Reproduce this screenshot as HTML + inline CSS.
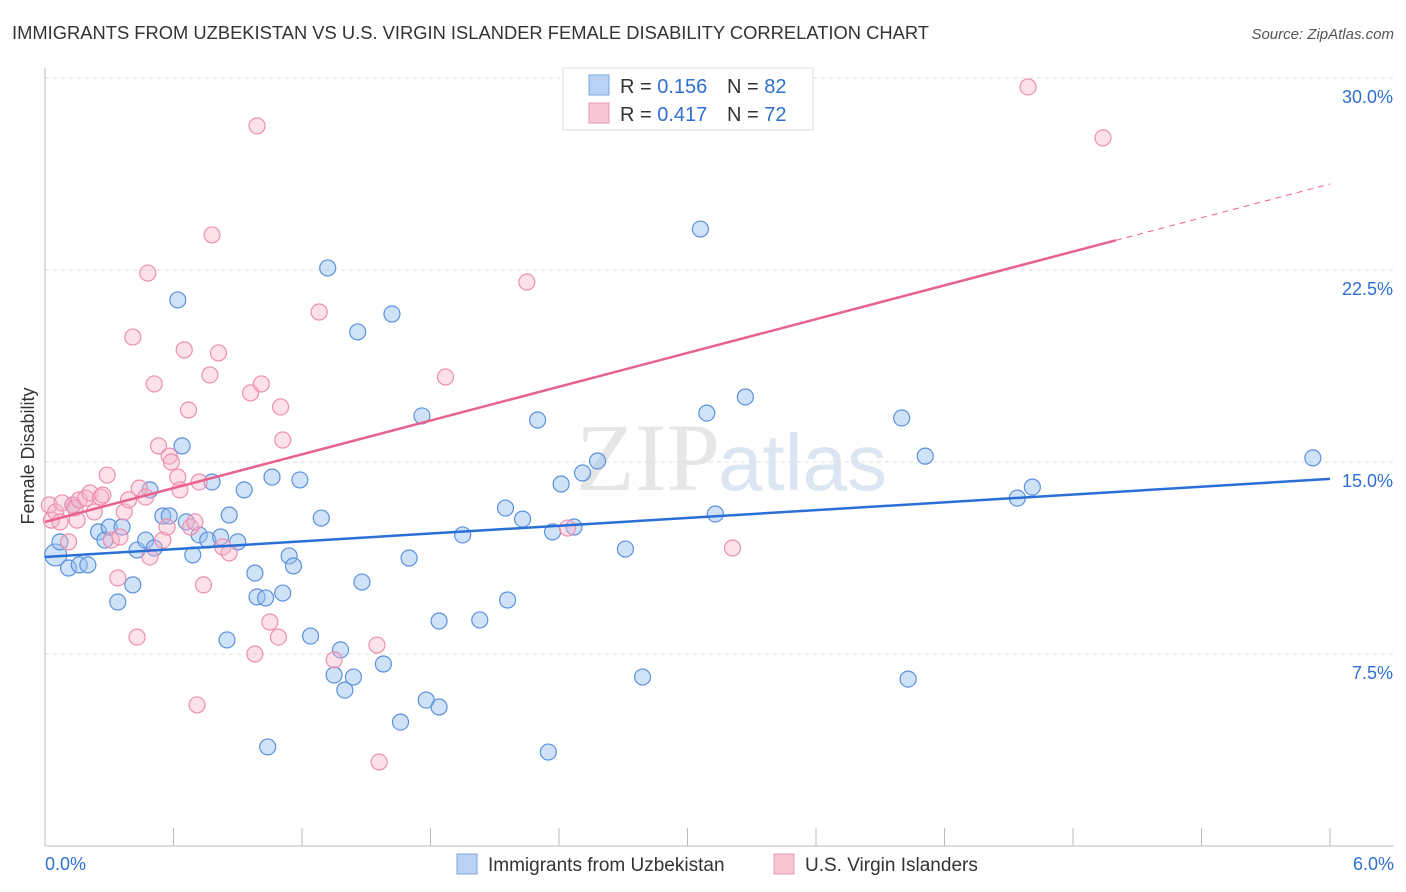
<!DOCTYPE html>
<html><head><meta charset="utf-8">
<style>
body{margin:0;background:#fff;font-family:"Liberation Sans",sans-serif;}
#wrap{position:relative;width:1406px;height:892px;overflow:hidden;}
</style></head>
<body>
<div id="wrap">
<svg id="svg" width="1406" height="892" xmlns="http://www.w3.org/2000/svg">
<text x="12" y="39" font-size="18" fill="#333" textLength="917" lengthAdjust="spacingAndGlyphs">IMMIGRANTS FROM UZBEKISTAN VS U.S. VIRGIN ISLANDER FEMALE DISABILITY CORRELATION CHART</text>
<text x="1394" y="39" font-size="15" fill="#555" font-style="italic" text-anchor="end">Source: ZipAtlas.com</text>
<text x="720" y="490" font-size="96" fill="#e6e6e6" font-family="Liberation Serif,serif" text-anchor="end">ZIP</text>
<text x="718" y="490" font-size="80" fill="#dce6f3">atlas</text>
<text transform="translate(34,456) rotate(-90)" font-size="18" fill="#333" text-anchor="middle">Female Disability</text>
<g id="grid"></g><g id="marks"></g>
<g>
<rect x="563" y="68" width="250" height="62" fill="#fff" stroke="#ddd"/>
<rect x="589" y="75" width="20" height="20" fill="#b8d2f3" stroke="#7aa5dd"/>
<rect x="589" y="103" width="20" height="20" fill="#f9c6d4" stroke="#ee97b0"/>
<text x="620" y="93" font-size="20" fill="#333">R = <tspan fill="#2f6fd0">0.156</tspan></text>
<text x="727" y="93" font-size="20" fill="#333">N = <tspan fill="#2f6fd0">82</tspan></text>
<text x="620" y="121" font-size="20" fill="#333">R = <tspan fill="#2f6fd0">0.417</tspan></text>
<text x="727" y="121" font-size="20" fill="#333">N = <tspan fill="#2f6fd0">72</tspan></text>
</g>
<g>
<rect x="457" y="854" width="20" height="20" fill="#b8d2f3" stroke="#7aa5dd"/>
<text x="488" y="871" font-size="19" fill="#333">Immigrants from Uzbekistan</text>
<rect x="774" y="854" width="20" height="20" fill="#f9c6d4" stroke="#ee97b0"/>
<text x="805" y="871" font-size="19" fill="#333">U.S. Virgin Islanders</text>
</g>
<text x="45" y="870" font-size="18" fill="#2f6fd0">0.0%</text>
<text x="1394" y="870" font-size="18" fill="#2f6fd0" text-anchor="end">6.0%</text>
</svg>
</div>
<script>
const yTicks=[7.5,15,22.5,30];
const yTickLabels=["7.5%","15.0%","22.5%","30.0%"];
const blueX=[0.05,0.07,0.11,0.16,0.20,0.13,0.25,0.28,0.30,0.36,0.34,0.41,0.43,0.47,0.49,0.51,0.55,0.58,0.62,0.64,0.66,0.69,0.72,0.76,0.78,0.82,0.85,0.86,0.90,0.93,0.98,0.99,1.03,1.04,1.06,1.11,1.14,1.16,1.19,1.24,1.29,1.32,1.35,1.38,1.40,1.44,1.46,1.48,1.58,1.62,1.66,1.70,1.76,1.78,1.84,1.84,1.95,2.03,2.15,2.16,2.23,2.30,2.35,2.37,2.41,2.47,2.51,2.58,2.71,2.79,3.06,3.09,3.13,3.27,4.00,4.03,4.11,4.54,4.61,5.92];
const blueY=[11.37,11.88,10.86,10.98,10.98,13.32,12.27,11.95,12.46,12.46,9.53,10.20,11.56,11.95,13.91,11.64,12.89,12.89,21.33,15.63,12.66,11.37,12.15,11.95,14.22,12.07,8.05,12.93,11.88,13.91,10.66,9.73,9.69,3.87,14.41,9.88,11.33,10.94,14.30,8.20,12.81,22.58,6.68,7.66,6.09,6.60,20.08,10.31,7.11,20.78,4.84,11.25,16.80,5.70,5.43,8.79,12.15,8.83,13.20,9.61,12.77,16.64,3.67,12.27,14.14,12.46,14.57,15.04,11.60,6.60,24.10,16.91,12.97,17.54,16.72,6.52,15.23,13.59,14.02,15.16];
const pinkX=[0.02,0.03,0.05,0.07,0.08,0.11,0.13,0.14,0.15,0.16,0.19,0.21,0.23,0.26,0.27,0.29,0.31,0.34,0.35,0.37,0.39,0.41,0.43,0.44,0.47,0.48,0.49,0.51,0.53,0.55,0.57,0.58,0.59,0.62,0.63,0.65,0.67,0.68,0.70,0.71,0.72,0.74,0.77,0.78,0.81,0.83,0.86,0.96,0.98,0.99,1.01,1.05,1.09,1.10,1.11,1.28,1.35,1.55,1.56,1.87,2.25,2.44,3.21,4.59,4.94];
const pinkY=[13.32,12.73,13.05,12.66,13.40,11.88,13.32,13.20,12.73,13.52,13.59,13.79,13.05,13.63,13.71,14.49,11.95,10.47,12.07,13.05,13.52,19.88,8.16,13.98,13.63,22.38,11.29,18.05,15.63,11.95,12.46,15.23,15.00,14.41,13.91,19.38,17.03,12.46,12.66,5.51,14.22,10.20,18.40,23.87,19.26,11.68,11.45,17.70,7.50,28.13,18.05,8.75,8.16,17.15,15.86,20.86,7.27,7.85,3.28,18.32,22.03,12.42,11.64,29.65,27.66];
const blueTrend=[11.29,14.34];
const pinkTrend=[12.66,25.86];
const NS='http://www.w3.org/2000/svg';
const xs=v=>45+v*214.17;
const ys=v=>462-(v-15)*25.6;
function mk(tag,attrs,parent){const e=document.createElementNS(NS,tag);for(const k in attrs)e.setAttribute(k,attrs[k]);parent.appendChild(e);return e;}
const grid=document.getElementById('grid'),marks=document.getElementById('marks');
yTicks.forEach((t,i)=>{
 const l=mk('line',{x1:45,x2:1394,y1:ys(t),y2:ys(t),stroke:'#ddd','stroke-dasharray':'4,4'},grid);
 
 
 const tx=mk('text',{x:1393,y:ys(t)+25,'font-size':18,fill:'#2f6fd0','text-anchor':'end'},grid);
 tx.textContent=yTickLabels[i];
 
 
});
const ax=mk('line',{x1:45,x2:1394,y1:846,y2:846,stroke:'#bbb'},grid);


const ay=mk('line',{x1:45,x2:45,y1:68,y2:846,stroke:'#bbb'},grid);


for(let i=1;i<=10;i++){const t=mk('line',{x1:45+i*128.5,x2:45+i*128.5,y1:828,y2:846,stroke:'#bbb'},grid);
 
 }
blueX.forEach((x,i)=>{const c=mk('circle',{cx:xs(x),cy:ys(blueY[i]),r:i==0?11:8,fill:'rgba(150,190,240,0.45)',stroke:'#5b91dc','stroke-width':1.2},marks);
 
 });
pinkX.forEach((x,i)=>{const c=mk('circle',{cx:xs(x),cy:ys(pinkY[i]),r:8,fill:'rgba(248,180,200,0.4)',stroke:'#ec8fae','stroke-width':1.2},marks);
 
 });
const bl=mk('line',{x1:xs(0),y1:ys(blueTrend[0]),x2:xs(6),y2:ys(blueTrend[1]),stroke:'#2a6fd6','stroke-width':2.5},marks);


const pm=pinkTrend[0]+(pinkTrend[1]-pinkTrend[0])*(5/6);
const pl=mk('line',{x1:xs(0),y1:ys(pinkTrend[0]),x2:xs(5),y2:ys(pm),stroke:'#e8628e','stroke-width':2.5},marks);


const pd=mk('line',{x1:xs(5),y1:ys(pm),x2:xs(6),y2:ys(pinkTrend[1]),stroke:'#e8628e','stroke-width':1,'stroke-dasharray':'6,5'},marks);


</script>
</body></html>
